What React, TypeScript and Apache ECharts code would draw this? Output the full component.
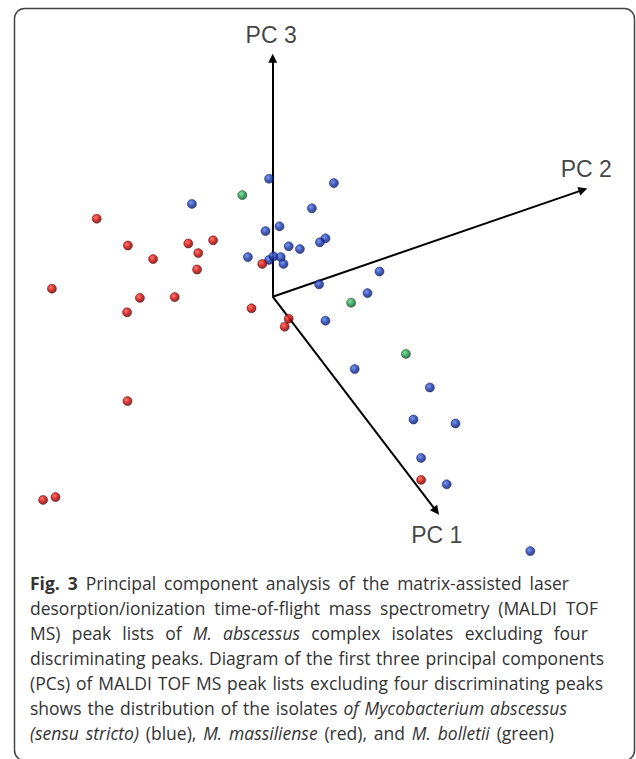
import React, { useEffect, useRef } from "react";
import * as echarts from "echarts";

// Projected PCA coordinates (arbitrary units, origin at PC axes origin)
const blueIsolates: number[][] = [
  [-0.09, 2.95], [1.53, 2.84], [-2.02, 2.32], [0.98, 2.21], [0.17, 1.76],
  [-0.18, 1.64], [1.32, 1.46], [1.18, 1.36], [0.4, 1.26], [0.68, 1.19],
  [-0.62, 0.99], [-0.09, 0.92], [0.02, 1.01], [0.2, 0.99], [0.27, 0.82],
  [2.67, 0.63], [1.16, 0.31], [2.37, 0.09], [1.32, -0.6], [2.05, -1.81],
  [3.93, -2.27], [3.52, -3.07], [4.57, -3.17], [3.71, -4.03], [4.35, -4.69],
  [6.44, -6.36],
];
const redIsolates: number[][] = [
  [-4.4, 1.95], [-3.62, 1.28], [-2.11, 1.33], [-1.49, 1.41], [-1.86, 1.09],
  [-2.99, 0.94], [-1.89, 0.68], [-0.26, 0.82], [-5.52, 0.2], [-3.32, -0.03],
  [-2.45, -0.01], [-3.64, -0.39], [-0.53, -0.29], [0.4, -0.55], [0.3, -0.75],
  [-3.63, -2.61], [3.71, -4.58], [-5.43, -5.01], [-5.74, -5.08],
];
const greenIsolates: number[][] = [
  [-0.76, 2.54], [1.96, -0.15], [3.33, -1.43],
];
const axisNames = ["PC 1", "PC 2", "PC 3"];
const axisEnds: number[][] = [
  [4.09, -5.36],
  [7.76, 2.67],
  [0, 5.96],
];
const axisLabelPos: number[][] = [
  [4.1, -5.96],
  [7.84, 3.2],
  [-0.04, 6.54],
];
const captionLines: string[][][] = [
  [["b", "Fig. 3"], ["n", " Principal component analysis of the matrix-assisted laser"]],
  [["n", "desorption/ionization time-of-flight mass spectrometry (MALDI TOF"]],
  [["n", "MS) peak lists of "], ["i", "M. abscessus"], ["n", " complex isolates excluding four"]],
  [["n", "discriminating peaks. Diagram of the first three principal components"]],
  [["n", "(PCs) of MALDI TOF MS peak lists excluding four discriminating peaks"]],
  [["n", "shows the distribution of the isolates "], ["i", "of Mycobacterium abscessus"]],
  [["i", "(sensu stricto)"], ["n", " (blue), "], ["i", "M. massiliense"], ["n", " (red), and "], ["i", "M. bolletii"], ["n", " (green)"]],
];
// right edge (px) of each caption line in the layout
const captionRightEdges = [569, 598, 588, 604, 603, 567, 554];

function sphere(light: string, mid: string, dark: string) {
  return new echarts.graphic.RadialGradient(0.38, 0.36, 0.62, [
    { offset: 0, color: light },
    { offset: 0.55, color: mid },
    { offset: 1, color: dark },
  ]);
}

export default function App() {
  const ref = useRef<HTMLDivElement>(null);
  useEffect(() => {
    document.body.style.margin = "0";
    if (!ref.current) return;
    const chart = echarts.init(ref.current, null, { renderer: "svg" });
    const capFamily = "Open Sans";
    const capFont = "'Open Sans', sans-serif";
    const capSize = 17.5;
    const capLH = 25;
    const capColor = "#333333";
    const capX = 30;

    const canvas = document.createElement("canvas");
    const ctx = canvas.getContext("2d")!;
    const measure = (t: string, s: string) => {
      const st = s === "i" ? "italic " : "";
      const wt = s === "b" ? "bold " : "";
      ctx.font = `${st}${wt}${capSize}px '${capFamily}'`;
      return ctx.measureText(t).width;
    };
    const base = { fontFamily: capFont, fontSize: capSize, lineHeight: capLH, fill: capColor };
    const rich: any = {
      n: { ...base },
      b: { ...base, fontWeight: "bold" },
      i: { ...base, fontStyle: "italic" },
    };
    const lineStrings = captionLines.map((line, li) => {
      const toks: { s: string; t: string; space: boolean }[] = [];
      line.forEach(([s, t]) => {
        const parts = t.split(" ");
        parts.forEach((p, k) => {
          if (k > 0) toks.push({ s, t: " ", space: true });
          if (p) toks.push({ s, t: p, space: false });
        });
      });
      const spaceW = measure(" ", "n");
      let wordsW = 0;
      let nSp = 0;
      toks.forEach((tk) => {
        if (tk.space) nSp++;
        else wordsW += measure(tk.t, tk.s);
      });
      const target = captionRightEdges[li] - capX;
      const gap = nSp > 0 ? Math.max(spaceW, (target - wordsW) / nSp) : spaceW;
      rich["g" + li] = { ...base, width: gap };
      return toks.map((tk) => (tk.space ? `{g${li}| }` : `{${tk.s}|${tk.t}}`)).join("");
    });
    const captionText = lineStrings.join("\n");

    const scatterBase = {
      type: "scatter" as const,
      symbol: "circle",
      symbolSize: 9,
      clip: false,
      z: 5,
    };
    chart.setOption({
      animation: false,
      backgroundColor: "#ffffff",
      grid: { left: 32.7, top: 16.7, width: 560, height: 560 },
      xAxis: { type: "value", min: -6, max: 8, show: false },
      yAxis: { type: "value", min: -7, max: 7, show: false },
      graphic: [
        {
          type: "rect",
          shape: { x: 14.5, y: 8.5, width: 620, height: 752, r: 10 },
          style: { fill: "none", stroke: "#444444", lineWidth: 1.5 },
          silent: true,
        },
        {
          type: "text",
          x: capX,
          y: 570,
          style: {
            text: captionText,
            fill: capColor,
            font: `${capSize}px ${capFont}`,
            rich,
            verticalAlign: "top",
            align: "left",
          },
          silent: true,
        },
      ],
      series: [
        {
          type: "lines",
          coordinateSystem: "cartesian2d",
          symbol: ["none", "triangle"],
          symbolSize: 9,
          lineStyle: { color: "#000000", width: 2, opacity: 1 },
          silent: true,
          z: 2,
          data: axisEnds.map((e) => ({ coords: [[0, 0], e] })),
        },
        {
          ...scatterBase,
          name: "M. abscessus",
          data: blueIsolates,
          itemStyle: { color: sphere("#5a7fe8", "#1535b0", "#081a6a"), borderColor: "#0a1a60", borderWidth: 0.6 },
        },
        {
          ...scatterBase,
          name: "M. massiliense",
          data: redIsolates,
          itemStyle: { color: sphere("#ff5a4a", "#d40000", "#6a0000"), borderColor: "#500000", borderWidth: 0.6 },
        },
        {
          ...scatterBase,
          name: "M. bolletii",
          data: greenIsolates,
          itemStyle: { color: sphere("#6ad08a", "#1a9a48", "#0a5025"), borderColor: "#0a4020", borderWidth: 0.6 },
        },
        {
          type: "scatter",
          symbolSize: 1,
          silent: true,
          clip: false,
          z: 6,
          itemStyle: { color: "rgba(0,0,0,0)" },
          data: axisLabelPos.map((p, k) => [p[0], p[1], axisNames[k]]),
          label: {
            show: true,
            position: "inside",
            formatter: (p: any) => p.value[2],
            fontFamily: "'Liberation Sans', Arial, sans-serif",
            fontSize: 23,
            color: "#111111",
          },
        },
      ],
    });
    return () => chart.dispose();
  }, []);
  return <div ref={ref} style={{ width: 636, height: 759 }} />;
}
